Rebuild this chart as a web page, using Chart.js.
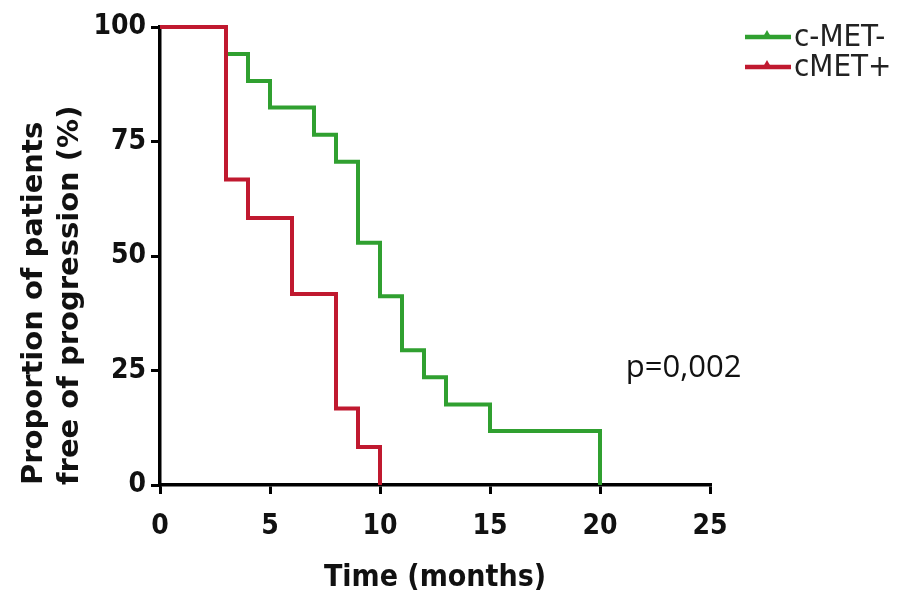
<!DOCTYPE html>
<html>
<head>
<meta charset="utf-8">
<script src="https://cdn.jsdelivr.net/npm/chart.js@4.4.1/dist/chart.umd.min.js"></script>
<style>
  html, body { margin: 0; padding: 0; background: #fff; }
  #wrap { width: 913px; height: 597px; position: relative; }
</style>
</head>
<body>
<div id="wrap"><canvas id="kmChart"></canvas></div>
<script>
// Kaplan-Meier steps (months, % free of progression)
const cmetNegTime = [0, 3, 4, 5, 7, 8, 9, 10, 11, 12, 13, 15, 20];
const cmetNegSurv = [100, 94.1, 88.2, 82.4, 76.5, 70.6, 52.9, 41.2, 29.4, 23.5, 17.6, 11.8, 0];
const cmetPosTime = [0, 3, 4, 6, 8, 9, 10];
const cmetPosSurv = [100, 66.7, 58.3, 41.7, 16.7, 8.3, 0];

const seriesLabels = ['c-MET-', 'cMET+'];
const xTicks = [0, 5, 10, 15, 20, 25];
const yTicks = [0, 25, 50, 75, 100];
const pValueText = 'p=0,002';

const toPoints = (xs, ys) => xs.map((x, i) => ({ x: x, y: ys[i] }));

const narrowFont = '"Liberation Sans Narrow", "DejaVu Sans Condensed", "Liberation Sans", sans-serif';

// legend with the little marker in the middle of the line
const sideLegend = {
    id: 'sideLegend',
    afterDraw(chart) {
        const ctx = chart.ctx;
        ctx.save();
        chart.data.datasets.forEach((ds, i) => {
            const y = 37 + i * 30;
            ctx.strokeStyle = ds.borderColor;
            ctx.lineWidth = 4.5;
            ctx.beginPath();
            ctx.moveTo(745, y);
            ctx.lineTo(791, y);
            ctx.stroke();
            ctx.fillStyle = ds.borderColor;
            ctx.beginPath();
            ctx.moveTo(767, y - 7);
            ctx.lineTo(771, y);
            ctx.lineTo(763, y);
            ctx.closePath();
            ctx.fill();
            ctx.fillStyle = '#222';
            ctx.font = '31px ' + narrowFont;
            ctx.textBaseline = 'middle';
            ctx.textAlign = 'left';
            ctx.fillText(ds.label, 794, y + 1);
        });
        ctx.restore();
    }
};

const pValueNote = {
    id: 'pValueNote',
    afterDraw(chart) {
        const ctx = chart.ctx;
        const x = chart.scales.x.getPixelForValue(23.8);
        const y = chart.scales.y.getPixelForValue(25.6);
        ctx.save();
        ctx.fillStyle = '#111';
        ctx.font = '31px "Open Sans", sans-serif';
        ctx.textAlign = 'center';
        ctx.textBaseline = 'middle';
        ctx.fillText(pValueText, x, y);
        ctx.restore();
    }
};

const ctx = document.getElementById('kmChart').getContext('2d');
const kmChart = new Chart(ctx, {
    type: 'line',
    data: {
        datasets: [{
            label: seriesLabels[0],
            data: toPoints(cmetNegTime, cmetNegSurv),
            borderColor: '#30a030',
            borderWidth: 4,
            stepped: true,
            pointRadius: 0,
            fill: false,
            clip: false,
            order: 1
        }, {
            label: seriesLabels[1],
            data: toPoints(cmetPosTime, cmetPosSurv),
            borderColor: '#c0192f',
            borderWidth: 4,
            stepped: true,
            pointRadius: 0,
            fill: false,
            clip: false,
            order: 0
        }]
    },
    options: {
        responsive: true,
        maintainAspectRatio: false,
        animation: false,
        layout: {
            padding: { top: 27, right: 203, bottom: 0, left: 0 }
        },
        plugins: {
            legend: { display: false },
            tooltip: { enabled: false }
        },
        scales: {
            x: {
                type: 'linear',
                min: 0,
                max: 25,
                afterBuildTicks: s => { s.ticks = xTicks.map(v => ({ value: v })); },
                afterFit: s => { s.height = 112; },
                border: { color: '#000', width: 3.5 },
                grid: { drawOnChartArea: false, drawTicks: true, tickLength: 9, color: '#000', lineWidth: 3 },
                ticks: {
                    color: '#111',
                    padding: 16,
                    maxRotation: 0,
                    font: { family: narrowFont, size: 28, weight: 'bold' }
                },
                title: {
                    display: true,
                    text: 'Time (months)',
                    color: '#111',
                    padding: { top: 0, bottom: 1 },
                    font: { family: narrowFont, size: 30, weight: 'bold', lineHeight: 1.2 }
                }
            },
            y: {
                min: 0,
                max: 100,
                afterBuildTicks: s => { s.ticks = yTicks.map(v => ({ value: v })); },
                afterFit: s => { s.width = 160; },
                border: { color: '#000', width: 3.5 },
                grid: { drawOnChartArea: false, drawTicks: true, tickLength: 9, color: '#000', lineWidth: 3 },
                ticks: {
                    color: '#111',
                    padding: 5,
                    font: { family: narrowFont, size: 28, weight: 'bold' }
                },
                title: {
                    display: true,
                    text: ['Proportion of patients', 'free of progression (%)'],
                    color: '#111',
                    align: 'start',
                    padding: { top: 17, bottom: 0 },
                    font: { family: '"DejaVu Sans", sans-serif', size: 29, weight: 'bold', lineHeight: 1.22 }
                }
            }
        }
    },
    plugins: [sideLegend, pValueNote]
});
</script>
</body>
</html>
